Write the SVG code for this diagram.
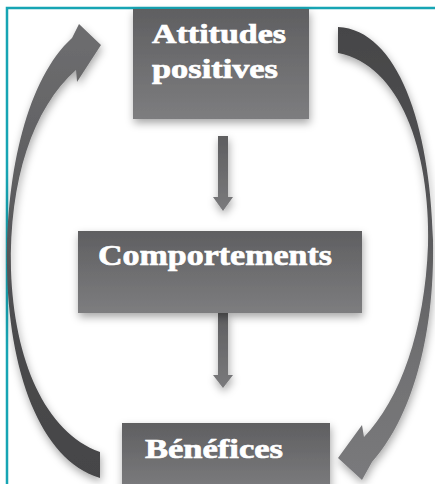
<svg xmlns="http://www.w3.org/2000/svg" width="435" height="484" viewBox="0 0 435 484">
<style>
.lbl{font-family:"Liberation Serif","Times New Roman",serif;font-weight:900;fill:#ffffff;stroke:#ffffff;stroke-width:0.7;}
.border{stroke:#17a5b4;stroke-width:2.5;fill:none;}
</style>
<defs>
<linearGradient id="boxg" x1="0" y1="0" x2="0" y2="1">
<stop offset="0" stop-color="#5f5f61"/>
<stop offset="1" stop-color="#7d7d7f"/>
</linearGradient>
<linearGradient id="arrg" x1="0" y1="0" x2="0" y2="1">
<stop offset="0" stop-color="#5e5e60"/>
<stop offset="1" stop-color="#7a7a7c"/>
</linearGradient>
<linearGradient id="leftg" x1="0" y1="0" x2="0" y2="484" gradientUnits="userSpaceOnUse">
<stop offset="0.1" stop-color="#6c6c6e"/>
<stop offset="0.45" stop-color="#5a5a5c"/>
<stop offset="0.7" stop-color="#4a4a4c"/>
<stop offset="1" stop-color="#454547"/>
</linearGradient>
<linearGradient id="rightg" x1="0" y1="0" x2="0" y2="484" gradientUnits="userSpaceOnUse">
<stop offset="0.05" stop-color="#454547"/>
<stop offset="0.4" stop-color="#535355"/>
<stop offset="0.75" stop-color="#717173"/>
<stop offset="1" stop-color="#7a7a7c"/>
</linearGradient>
<filter id="sh" x="-20%" y="-20%" width="140%" height="150%">
<feDropShadow dx="1" dy="4" stdDeviation="4" flood-color="#000" flood-opacity="0.35"/>
</filter>
</defs>
<rect x="0" y="0" width="435" height="484" fill="#ffffff"/>
<g id="frame">
<path class="border" d="M7,484 L7,8 L435,8"/>
</g>
<g id="connectors" filter="url(#sh)">
<path id="loop-left" fill="url(#leftg)" d="M100,452 C45,432 14,360 11,270 C9,180 33,108 76,70 L77,82 L101,45 L79,24 L72,38 C28,78 6,170 7,265 C8,370 40,460 100,478 Z"/>
<path id="loop-right" fill="url(#rightg)" d="M338,27 C398,30 430,125 433,240 C435,340 410,420 372,462 L362,480 L338,458 L362,425 L364,437 C400,400 425,330 428,245 C430,150 400,65 338,53 Z"/>
<path id="a1" fill="url(#arrg)" d="M218,136 L228,136 L228,197 L233,197 L223,211 L213,197 L218,197 Z"/>
<path id="a2" fill="url(#arrg)" d="M218,313 L228,313 L228,375 L233,375 L223,388 L213,375 L218,375 Z"/>
</g>
<g id="node-attitudes">
<rect x="133" y="9" width="176" height="110" fill="url(#boxg)" filter="url(#sh)"/>
<text class="lbl" x="152" y="43" font-size="27" textLength="134" lengthAdjust="spacingAndGlyphs">Attitudes</text>
<text class="lbl" x="152" y="78" font-size="27" textLength="126" lengthAdjust="spacingAndGlyphs">positives</text>
</g>
<g id="node-comportements">
<rect x="78" y="231" width="284" height="82" fill="url(#boxg)" filter="url(#sh)"/>
<text class="lbl" x="98" y="265" font-size="29" textLength="234" lengthAdjust="spacingAndGlyphs">Comportements</text>
</g>
<g id="node-benefices">
<rect x="122" y="423" width="208" height="70" fill="url(#boxg)" filter="url(#sh)"/>
<text class="lbl" x="145" y="458" font-size="27" textLength="138" lengthAdjust="spacingAndGlyphs">Bénéfices</text>
</g>
</svg>
